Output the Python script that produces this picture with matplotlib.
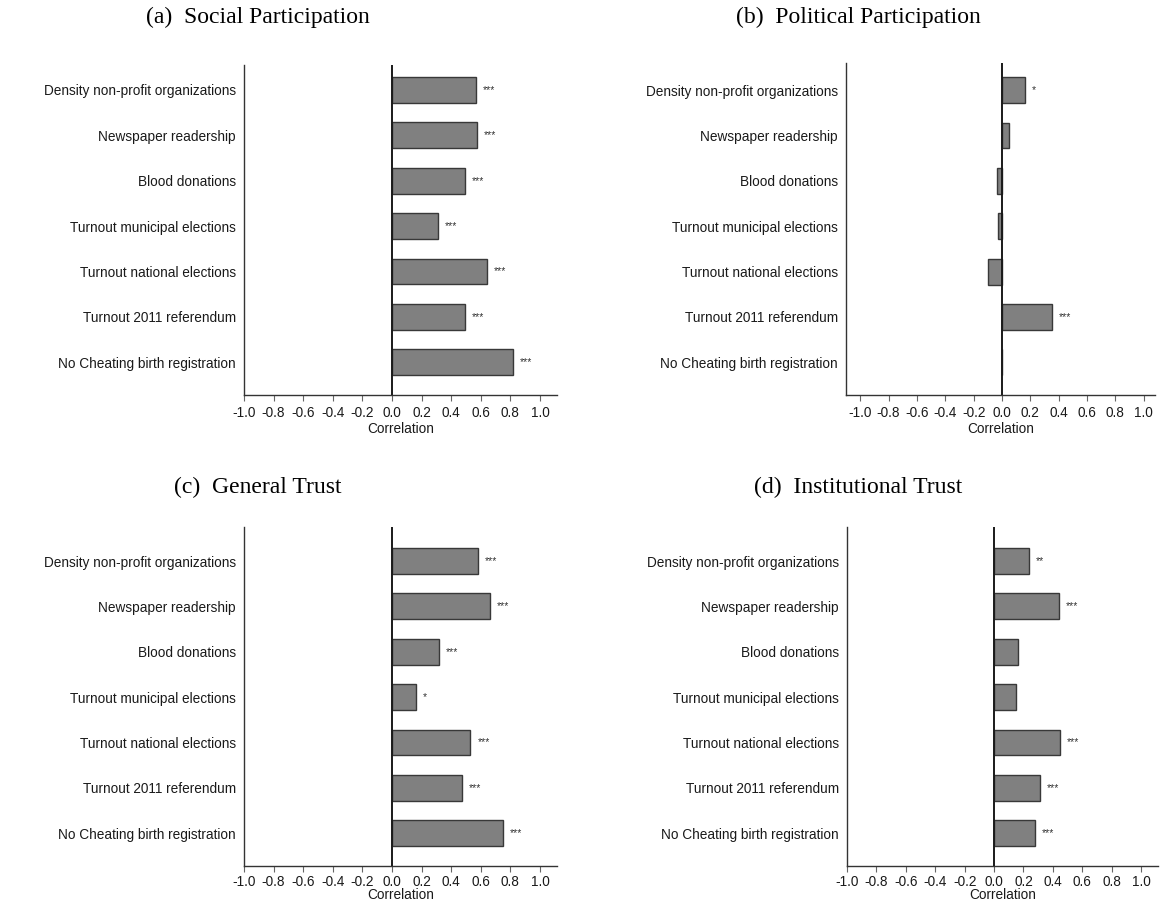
import matplotlib
matplotlib.use("Agg")
import matplotlib.pyplot as plt
import numpy as np

categories = [
    "Density non-profit organizations",
    "Newspaper readership",
    "Blood donations",
    "Turnout municipal elections",
    "Turnout national elections",
    "Turnout 2011 referendum",
    "No Cheating birth registration",
]

social_participation = [0.57, 0.575, 0.49, 0.31, 0.64, 0.49, 0.82]
social_stars = ["***", "***", "***", "***", "***", "***", "***"]

political_participation = [0.16, 0.05, -0.035, -0.03, -0.10, 0.35, 0.0]
political_stars = ["*", "", "", "", "", "***", ""]

general_trust = [0.58, 0.66, 0.32, 0.16, 0.53, 0.47, 0.75]
general_stars = ["***", "***", "***", "*", "***", "***", "***"]

institutional_trust = [0.24, 0.44, 0.16, 0.15, 0.45, 0.31, 0.28]
institutional_stars = ["**", "***", "", "", "***", "***", "***"]

tick_values = [-1.0, -0.8, -0.6, -0.4, -0.2, 0.0, 0.2, 0.4, 0.6, 0.8, 1.0]
tick_labels = ["-1.0", "-0.8", "-0.6", "-0.4", "-0.2", "0.0", "0.2", "0.4", "0.6", "0.8", "1.0"]

panel_titles = ["(a)  Social Participation", "(b)  Political Participation",
                "(c)  General Trust", "(d)  Institutional Trust"]

W, H = 1164, 905
fig = plt.figure(figsize=(W / 100, H / 100), dpi=100)
fig.patch.set_facecolor("white")

SANS = ["Liberation Sans", "DejaVu Sans"]
SERIF = ["Liberation Serif", "DejaVu Serif"]

# pixel boxes: (left, right, top, bottom), x-limits, y-limit top, tick padding
panels = [
    dict(vals=social_participation, stars=social_stars, box=(244, 557, 65, 395),
         xlim=(-1.0, 1.115), ytop=-0.55, title_x=258, title_y=17, pad=4, lpad=1),
    dict(vals=political_participation, stars=political_stars, box=(846, 1155, 63, 395),
         xlim=(-1.1, 1.08), ytop=-0.60, title_x=858, title_y=17, pad=4, lpad=1),
    dict(vals=general_trust, stars=general_stars, box=(244, 557, 527, 866),
         xlim=(-1.0, 1.115), ytop=-0.75, title_x=258, title_y=487, pad=2.5, lpad=-0.5),
    dict(vals=institutional_trust, stars=institutional_stars, box=(847, 1158, 527, 866),
         xlim=(-1.0, 1.115), ytop=-0.75, title_x=858, title_y=487, pad=2.5, lpad=-0.5),
]

ypos = np.arange(len(categories))
text_color = "#1a1a1a"

for p, title in zip(panels, panel_titles):
    l, r, t, b = p["box"]
    ax = fig.add_axes([l / W, 1 - b / H, (r - l) / W, (b - t) / H])
    ax.set_facecolor("none")
    ax.barh(ypos, p["vals"], height=0.57, color="#808080",
            edgecolor="#383838", linewidth=1.0, zorder=2)
    ax.axvline(0, color="#1a1a1a", linewidth=1.4, zorder=3)
    ax.set_xlim(*p["xlim"])
    ax.set_ylim(6.72, p["ytop"])
    ax.set_yticks(ypos)
    ax.set_yticklabels(categories, fontsize=9.8, family=SANS, color=text_color)
    ax.tick_params(axis="y", length=0, pad=6)
    ax.set_xticks(tick_values)
    ax.set_xticklabels(tick_labels, fontsize=9.8, family=SANS, color=text_color)
    ax.tick_params(axis="x", length=4, width=0.8, color="#666666", pad=p["pad"])
    ax.set_xlabel("Correlation", fontsize=9.8, family=SANS, color=text_color,
                  labelpad=p["lpad"])
    for side in ("top", "right"):
        ax.spines[side].set_visible(False)
    for side in ("left", "bottom"):
        ax.spines[side].set_color("#333333")
        ax.spines[side].set_linewidth(1.0)
    for y, v, s in zip(ypos, p["vals"], p["stars"]):
        if s:
            ax.annotate(s, xy=(max(v, 0), y), xytext=(5, 0), textcoords="offset points",
                        ha="left", va="center", fontsize=7.5, family=SANS,
                        color="#333333", zorder=4)
    fig.text(p["title_x"] / W, 1 - p["title_y"] / H, title, ha="center", va="center",
             fontsize=17, family=SERIF, color="black")

fig.savefig("out.png", dpi=100, facecolor="white")
